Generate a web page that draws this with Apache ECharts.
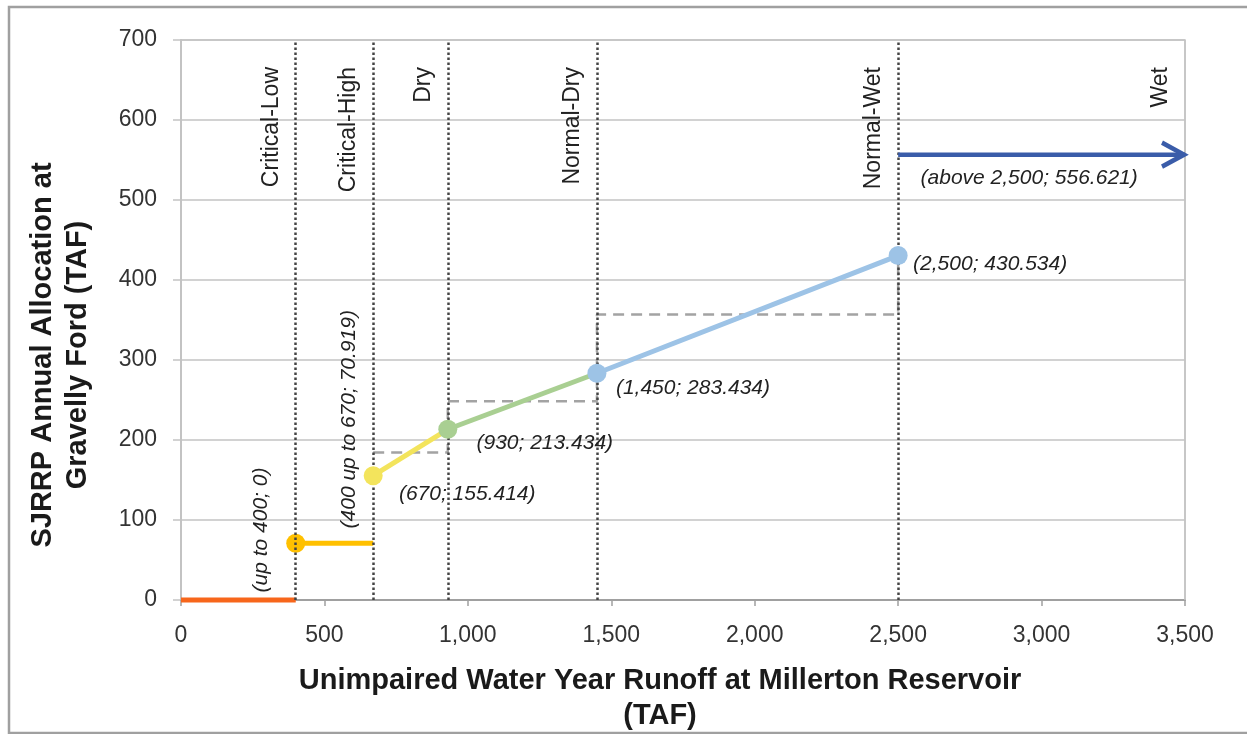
<!DOCTYPE html>
<html>
<head>
<meta charset="utf-8">
<script src="https://cdn.jsdelivr.net/npm/echarts@6/dist/echarts.min.js"></script>
<style>
  html, body { margin: 0; padding: 0; background: #ffffff; }
  #chart { width: 1247px; height: 734px; }
</style>
</head>
<body>
<div id="chart"></div>
<script>
// ---- data ----
const xTickLabels = ['0', '500', '1,000', '1,500', '2,000', '2,500', '3,000', '3,500'];
const yTickLabels = ['0', '100', '200', '300', '400', '500', '600', '700'];
const yearTypes = ['Critical-Low', 'Critical-High', 'Dry', 'Normal-Dry', 'Normal-Wet', 'Wet'];
const yearTypeBounds = [400, 670, 930, 1450, 2500, 3500];

const criticalLow = [[0, 0], [400, 0]];
const criticalHigh = [[400, 70.919], [670, 70.919]];
const drySeg = [[670, 155.414], [930, 213.434]];
const normalDrySeg = [[930, 213.434], [1450, 283.434]];
const normalWetSeg = [[1450, 283.434], [2500, 430.534]];
const wetSeg = [[2500, 556.621], [3500, 556.621]];
const stepLine = [[670, 184.4], [930, 184.4], [930, 248.4], [1450, 248.4], [1450, 357], [2500, 357], [2500, 430.534]];

const pointLabels = ['(up to 400; 0)', '(400 up to 670; 70.919)', '(670; 155.414)', '(930; 213.434)',
                     '(1,450; 283.434)', '(2,500; 430.534)', '(above 2,500; 556.621)'];

const FONT = "'Liberation Sans', Arial, Helvetica, sans-serif";
const labelBase = { show: true, position: 'inside', fontFamily: FONT, fontSize: 21, fontStyle: 'italic', color: '#222222' };

function pt(v, opts) { return Object.assign({ value: v }, opts || {}); }

const chart = echarts.init(document.getElementById('chart'), null, { renderer: 'canvas' });

const option = {
  backgroundColor: '#ffffff',
  animation: false,
  graphic: [{
    type: 'rect', z: -10, silent: true,
    shape: { x: 9, y: 7, width: 1260, height: 726 },
    style: { fill: 'none', stroke: '#a0a0a0', lineWidth: 2.5 }
  }],
  grid: { left: 181, right: 62, top: 40, bottom: 134, containLabel: false, outerBoundsMode: 'none',
          show: true, borderColor: '#c3c3c3', borderWidth: 1.5, backgroundColor: 'transparent' },
  xAxis: {
    type: 'value', min: 0, max: 3500, interval: 500,
    name: 'Unimpaired Water Year Runoff at Millerton Reservoir\n(TAF)',
    nameLocation: 'middle', nameGap: 63,
    nameTextStyle: { fontFamily: FONT, fontSize: 29, fontWeight: 'bold', color: '#1a1a1a', lineHeight: 35, padding: [0, 46, 0, 0] },
    axisLine: { show: true, lineStyle: { color: '#a0a0a0', width: 2 } },
    axisTick: { show: true, length: 6, lineStyle: { color: '#a0a0a0', width: 1.5 } },
    axisLabel: { margin: 24, fontFamily: FONT, fontSize: 23, color: '#333333',
                 formatter: v => xTickLabels[Math.round(v / 500)] },
    splitLine: { show: false }
  },
  yAxis: {
    type: 'value', min: 0, max: 700, interval: 100,
    name: 'SJRRP Annual Allocation at\nGravelly Ford (TAF)',
    nameLocation: 'middle', nameGap: 86,
    nameTextStyle: { fontFamily: FONT, fontSize: 29, fontWeight: 'bold', color: '#1a1a1a', lineHeight: 35, padding: [0, 70, 0, 0] },
    axisLine: { show: true, lineStyle: { color: '#c3c3c3', width: 2 } },
    axisTick: { show: true, length: 8, lineStyle: { color: '#c3c3c3', width: 1.5 } },
    axisLabel: { margin: 24, fontFamily: FONT, fontSize: 23, color: '#333333',
                 formatter: v => yTickLabels[Math.round(v / 100)] },
    splitLine: { show: true, lineStyle: { color: '#c3c3c3', width: 1.5 } }
  },
  series: [
    {
      name: 'bounds', type: 'line', data: [], z: 1, silent: true,
      markLine: {
        silent: true, symbol: 'none', animation: false,
        lineStyle: { color: '#444444', type: [2.5, 2.5], width: 2.5 },
        label: { show: true, position: 'insideEndTop', distance: [27, 13], formatter: p => p.name,
                 fontFamily: FONT, fontSize: 23, color: '#222222' },
        data: yearTypeBounds.map((b, i) => {
          const d = { name: yearTypes[i], xAxis: b };
          if (i === yearTypeBounds.length - 1) d.lineStyle = { type: 'solid', color: '#c3c3c3', width: 1.5 };
          return d;
        })
      }
    },
    {
      name: 'steps', type: 'line', data: stepLine, z: 2, silent: true, showSymbol: false, symbol: 'none',
      lineStyle: { color: '#a3a3a3', width: 2.5, type: [11, 7] }
    },
    {
      name: 'Critical-Low', type: 'line', z: 3, clip: false,
      data: [pt(criticalLow[0], { symbolSize: 0 }),
             pt(criticalLow[1], { symbolSize: 0, label: Object.assign({}, labelBase, { rotate: 90, offset: [70, -35], formatter: pointLabels[0] }) })],
      lineStyle: { color: '#f7661b', width: 5 }, itemStyle: { color: '#f7661b' }, symbol: 'circle'
    },
    {
      name: 'Critical-High', type: 'line', z: 4, clip: false, symbol: 'circle',
      data: [pt(criticalHigh[0], { symbolSize: 19 }),
             pt(criticalHigh[1], { symbolSize: 0, label: Object.assign({}, labelBase, { rotate: 90, offset: [124, -24], formatter: pointLabels[1] }) })],
      lineStyle: { color: '#ffc000', width: 5 }, itemStyle: { color: '#ffc000' }
    },
    {
      name: 'Dry', type: 'line', z: 5, clip: false, symbol: 'circle',
      data: [pt(drySeg[0], { symbolSize: 19, label: Object.assign({}, labelBase, { offset: [94, 18], formatter: pointLabels[2] }) }),
             pt(drySeg[1], { symbolSize: 0 })],
      lineStyle: { color: '#f3e45c', width: 5 }, itemStyle: { color: '#f3e45c' }
    },
    {
      name: 'Normal-Dry', type: 'line', z: 6, clip: false, symbol: 'circle',
      data: [pt(normalDrySeg[0], { symbolSize: 19, label: Object.assign({}, labelBase, { offset: [97, 14], formatter: pointLabels[3] }) }),
             pt(normalDrySeg[1], { symbolSize: 0 })],
      lineStyle: { color: '#a9cf92', width: 5 }, itemStyle: { color: '#a9cf92' }
    },
    {
      name: 'Normal-Wet', type: 'line', z: 7, clip: false, symbol: 'circle',
      data: [pt(normalWetSeg[0], { symbolSize: 19, label: Object.assign({}, labelBase, { offset: [96, 15], formatter: pointLabels[4] }) }),
             pt(normalWetSeg[1], { symbolSize: 19, label: Object.assign({}, labelBase, { offset: [92, 9], formatter: pointLabels[5] }) })],
      lineStyle: { color: '#9dc3e6', width: 5 }, itemStyle: { color: '#9dc3e6' }
    },
    {
      name: 'Wet', type: 'line', z: 8, clip: false,
      data: [pt(wetSeg[0], { symbol: 'circle', symbolSize: 0, label: Object.assign({}, labelBase, { offset: [131, 23], formatter: pointLabels[6] }) }),
             pt(wetSeg[1], { symbol: 'path://M0,0L12,12L0,24', symbolSize: [22, 24], symbolOffset: [-12, 0] })],
      lineStyle: { color: '#3a5ca9', width: 4.5 },
      itemStyle: { color: 'transparent', borderColor: '#3a5ca9', borderWidth: 4.5 }
    }
  ]
};

chart.setOption(option);
</script>
</body>
</html>
